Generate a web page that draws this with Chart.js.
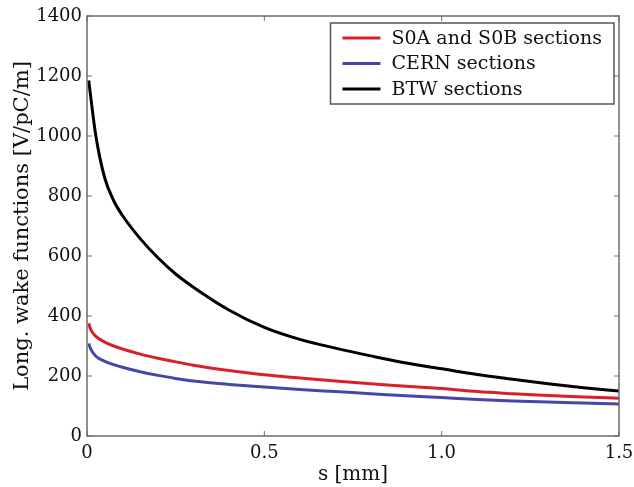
<!DOCTYPE html>
<html>
<head>
<meta charset="utf-8">
<title>Longitudinal wake functions</title>
<script src="https://cdn.jsdelivr.net/npm/chart.js@4/dist/chart.umd.min.js"></script>
<style>
  html, body { margin: 0; padding: 0; background: #fff; }
  #wake-chart { display: block; }
</style>
</head>
<body>
<canvas id="wake-chart" width="634" height="487"></canvas>
<script>
"use strict";

// distance behind the bunch, mm
const sValues = [0.005, 0.01, 0.025, 0.05, 0.075, 0.1, 0.15, 0.2, 0.25, 0.3, 0.4, 0.5,
  0.6, 0.7, 0.8, 0.9, 1.0, 1.1, 1.2, 1.3, 1.4, 1.5];

// wake per section type, V/pC/m
const s0Wake = [376, 356, 332, 313, 300, 290, 273, 259, 247, 236, 218, 204,
  193, 183, 174, 166, 158, 148, 141, 135, 130, 126];
const cernWake = [308, 291, 266, 249, 238, 229, 214, 202, 192, 183, 172, 163,
  155, 148, 141, 134, 128, 122, 117, 113, 110, 107];
const btwWake = [1185, 1135, 1000, 860, 785, 735, 658, 594, 540, 496, 420, 362,
  322, 293, 267, 243, 224, 205, 189, 174, 161, 150];

const seriesLabels = ["S0A and S0B sections", "CERN sections", "BTW sections"];
const xTicks = [0, 0.5, 1, 1.5];
const yTicks = [0, 200, 400, 600, 800, 1000, 1200, 1400];

(() => {
  const FONT = "'DejaVu Serif', 'Liberation Serif', serif";
  const AXIS_COLOR = "#6b6b6b";

  const toPoints = (vals) => sValues.map((s, i) => ({ x: s, y: vals[i] }));

  const makeSet = (label, vals, color) => ({
    label,
    data: toPoints(vals),
    borderColor: color,
    backgroundColor: color,
    borderWidth: 3,
    pointRadius: 0,
    cubicInterpolationMode: "monotone",
  });

  // matlab-like box around the plot with inward ticks on every side
  const frame = {
    id: "frame",
    afterDatasetsDraw(chart) {
      const { ctx, chartArea: a, scales } = chart;
      const len = 5;
      ctx.save();
      ctx.strokeStyle = AXIS_COLOR;
      ctx.lineWidth = 1.5;
      ctx.strokeRect(a.left, a.top, a.right - a.left, a.bottom - a.top);
      ctx.lineWidth = 1;
      ctx.beginPath();
      xTicks.forEach((v) => {
        const px = scales.x.getPixelForValue(v);
        ctx.moveTo(px, a.bottom); ctx.lineTo(px, a.bottom - len);
        ctx.moveTo(px, a.top); ctx.lineTo(px, a.top + len);
      });
      yTicks.forEach((v) => {
        const py = scales.y.getPixelForValue(v);
        ctx.moveTo(a.left, py); ctx.lineTo(a.left + len, py);
        ctx.moveTo(a.right, py); ctx.lineTo(a.right - len, py);
      });
      ctx.stroke();
      ctx.restore();
    },
  };

  // boxed legend in the upper right corner of the plot
  const boxLegend = {
    id: "boxLegend",
    afterDraw(chart) {
      const { ctx, chartArea: a } = chart;
      const sets = chart.data.datasets;
      const padX = 12, padTop = 15, rowH = 25.5, lineLen = 38, gap = 11;
      ctx.save();
      ctx.font = "19px " + FONT;
      const textW = Math.max(...sets.map((d) => ctx.measureText(d.label).width));
      const w = padX + lineLen + gap + textW + padX;
      const h = padTop * 2 + rowH * (sets.length - 1);
      const right = a.right - 5;
      const top = a.top + 7;
      const left = right - w;

      ctx.fillStyle = "#fff";
      ctx.fillRect(left, top, w, h);
      ctx.strokeStyle = "#555";
      ctx.lineWidth = 1.5;
      ctx.strokeRect(left, top, w, h);

      ctx.textBaseline = "middle";
      ctx.textAlign = "left";
      sets.forEach((d, i) => {
        const y = top + padTop + i * rowH;
        ctx.strokeStyle = d.borderColor;
        ctx.lineWidth = 3;
        ctx.beginPath();
        ctx.moveTo(left + padX, y);
        ctx.lineTo(left + padX + lineLen, y);
        ctx.stroke();
        ctx.fillStyle = "#111";
        ctx.fillText(d.label, left + padX + lineLen + gap, y + 1);
      });
      ctx.restore();
    },
  };

  document.addEventListener("DOMContentLoaded", () => {
    const ctx = document.getElementById("wake-chart").getContext("2d");

    new Chart(ctx, {
      type: "line",
      data: {
        datasets: [
          makeSet(seriesLabels[0], s0Wake, "#d8202a"),
          makeSet(seriesLabels[1], cernWake, "#4646aa"),
          makeSet(seriesLabels[2], btwWake, "#000000"),
        ],
      },
      options: {
        responsive: false,
        animation: false,
        layout: { padding: { top: 16, right: 15, left: 0, bottom: 0 } },
        plugins: {
          legend: { display: false },
          tooltip: { enabled: false },
        },
        scales: {
          x: {
            type: "linear",
            min: 0,
            max: 1.5,
            grid: { display: false, drawTicks: false, tickLength: 0 },
            border: { display: false },
            afterBuildTicks: (scale) => {
              scale.ticks = xTicks.map((v) => ({ value: v }));
            },
            afterFit: (scale) => {
              scale.height = 51;
              scale.paddingLeft = 0;
              scale.paddingRight = 0;
            },
            ticks: {
              color: "#111",
              padding: 7,
              maxRotation: 0,
              font: { family: FONT, size: 18 },
            },
            title: {
              display: true,
              text: "s [mm]",
              color: "#111",
              padding: { top: 0, bottom: 0 },
              font: { family: FONT, size: 20 },
            },
          },
          y: {
            min: 0,
            max: 1400,
            grid: { display: false, drawTicks: false, tickLength: 0 },
            border: { display: false },
            afterBuildTicks: (scale) => {
              scale.ticks = yTicks.map((v) => ({ value: v }));
            },
            afterFit: (scale) => {
              scale.width = 87;
              scale.paddingTop = 0;
              scale.paddingBottom = 0;
            },
            ticks: {
              color: "#111",
              padding: 5,
              font: { family: FONT, size: 18 },
              callback: (v) => String(v),
            },
            title: {
              display: true,
              text: "Long. wake functions [V/pC/m]",
              color: "#111",
              padding: { top: 10, bottom: 0 },
              font: { family: FONT, size: 21 },
            },
          },
        },
      },
      plugins: [frame, boxLegend],
    });
  });
})();
</script>
</body>
</html>
